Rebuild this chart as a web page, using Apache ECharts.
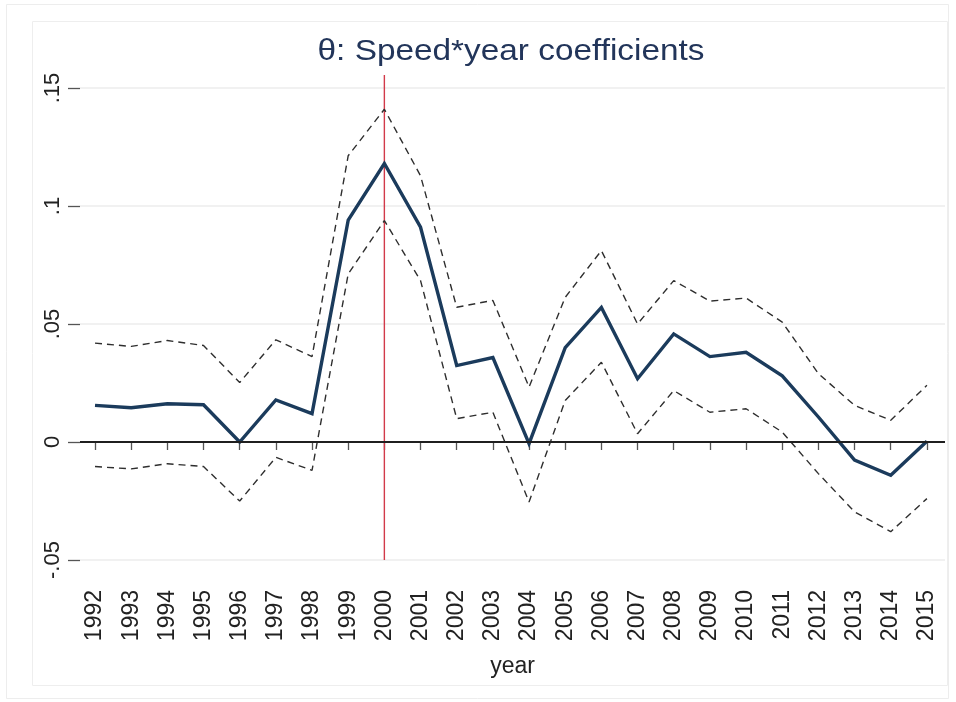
<!DOCTYPE html>
<html>
<head>
<meta charset="utf-8">
<script src="https://cdn.jsdelivr.net/npm/echarts@6/dist/echarts.min.js"></script>
<style>
  html, body { margin: 0; padding: 0; background: #ffffff; }
  #chart { width: 956px; height: 702px; }
</style>
</head>
<body>
<div id="chart"></div>
<script>
// Speed*year interaction coefficients with 95% confidence bands
const years = [1992, 1993, 1994, 1995, 1996, 1997, 1998, 1999, 2000, 2001, 2002, 2003,
               2004, 2005, 2006, 2007, 2008, 2009, 2010, 2011, 2012, 2013, 2014, 2015];
const coef  = [0.0155, 0.0145, 0.0162, 0.0158, 0.0000, 0.0178, 0.0120, 0.0940, 0.1180, 0.0910, 0.0324, 0.0358,
               -0.0007, 0.0400, 0.0570, 0.0268, 0.0458, 0.0362, 0.0380, 0.0280, 0.0106, -0.0077, -0.0141, 0.0003];
const upper = [0.0419, 0.0405, 0.0430, 0.0409, 0.0252, 0.0433, 0.0362, 0.1213, 0.1410, 0.1128, 0.0571, 0.0600,
               0.0233, 0.0613, 0.0811, 0.0500, 0.0684, 0.0597, 0.0610, 0.0508, 0.0290, 0.0155, 0.0092, 0.0240];
const lower = [-0.0104, -0.0114, -0.0092, -0.0104, -0.0250, -0.0065, -0.0120, 0.0712, 0.0938, 0.0684, 0.0099, 0.0126,
               -0.0254, 0.0176, 0.0338, 0.0035, 0.0218, 0.0126, 0.0141, 0.0042, -0.0134, -0.0296, -0.0380, -0.0240];
const yTickValues = [-0.05, 0, 0.05, 0.1, 0.15];
const yTickLabels = ['-.05', '0', '.05', '.1', '.15'];
const breakYear = 2000;
const titleText = 'θ: Speed*year coefficients';
const xTitle = 'year';

const X_MIN = 1991.585, X_MAX = 2015.5;
const Y_MIN = -0.05, Y_MAX = 0.15;
// the vertical reference line runs a little above the top of the plot area
const BREAK_TOP = 0.1555;

const pairs = arr => years.map((y, i) => [y, arr[i]]);
const FONT = '"Liberation Sans", Arial, sans-serif';

const PLOT_TOP = 88, PLOT_BOTTOM = 142;
const plotH = 702 - PLOT_TOP - PLOT_BOTTOM;
// second (overlay) grid shares the same scale but reaches higher
const overlayTop = PLOT_TOP - plotH * (BREAK_TOP - Y_MAX) / (Y_MAX - Y_MIN);

const chart = echarts.init(document.getElementById('chart'), null, { renderer: 'canvas' });

const dashedStyle = { color: '#2e2e2e', width: 1.4, type: [7, 5] };

chart.setOption({
  animation: false,
  backgroundColor: '#ffffff',
  grid: [
    { left: 80, right: 11, top: PLOT_TOP, bottom: PLOT_BOTTOM, containLabel: false },
    { left: 80, right: 11, top: overlayTop, bottom: PLOT_BOTTOM, containLabel: false }
  ],
  graphic: [
    { type: 'rect', shape: { x: 6.5, y: 4.5, width: 942, height: 694 },
      style: { fill: 'none', stroke: '#ededed', lineWidth: 1 }, silent: true, z: -10 },
    { type: 'rect', shape: { x: 32.5, y: 21.5, width: 915, height: 664 },
      style: { fill: 'none', stroke: '#eeeeee', lineWidth: 1 }, silent: true, z: -10 },
    { type: 'text', x: 511, y: 52, scaleX: 1.15, originX: 0, originY: 0,
      style: { text: titleText, font: '29px ' + FONT, fill: '#22355a',
               textAlign: 'center', textVerticalAlign: 'middle' }, silent: true }
  ],
  xAxis: [
    {
      type: 'value', gridIndex: 0,
      min: X_MIN, max: X_MAX,
      offset: 11,
      name: xTitle,
      nameLocation: 'middle',
      nameGap: 84,
      nameTextStyle: { fontSize: 23, fontFamily: FONT, color: '#222' },
      axisLine: { show: false },
      axisTick: { show: true, customValues: years, length: 8, lineStyle: { color: '#555', width: 1.3 } },
      axisLabel: { customValues: years, rotate: 90, margin: 19, fontSize: 23, fontFamily: FONT, color: '#222',
                   formatter: v => String(v) },
      splitLine: { show: false }
    },
    {
      type: 'value', gridIndex: 1, min: X_MIN, max: X_MAX, show: false
    }
  ],
  yAxis: [
    {
      type: 'value', gridIndex: 0,
      min: Y_MIN, max: Y_MAX, interval: 0.05,
      axisLine: { show: false },
      axisTick: { show: true, inside: false, length: 12, lineStyle: { color: '#555', width: 1.3 } },
      axisLabel: {
        rotate: 90, margin: 16, fontSize: 22, fontFamily: FONT, color: '#222',
        formatter: v => {
          const i = yTickValues.findIndex(t => Math.abs(t - v) < 1e-9);
          return i >= 0 ? yTickLabels[i] : '';
        }
      },
      splitLine: { show: true, lineStyle: { color: '#ececec', width: 1.5 } }
    },
    {
      type: 'value', gridIndex: 1, min: Y_MIN, max: BREAK_TOP, show: false
    }
  ],
  series: [
    {
      name: 'zero line', type: 'line', data: [], silent: true, xAxisIndex: 0, yAxisIndex: 0,
      markLine: {
        silent: true, symbol: 'none', animation: false, label: { show: false },
        lineStyle: { color: '#1f1f1f', width: 2, type: 'solid' },
        data: [{ yAxis: 0 }]
      }
    },
    {
      name: 'break year', type: 'line', xAxisIndex: 1, yAxisIndex: 1, silent: true,
      data: [[breakYear, Y_MIN], [breakYear, BREAK_TOP]], symbol: 'none',
      lineStyle: { color: '#d23a4a', width: 1.4 }, z: 2
    },
    { name: 'upper', type: 'line', data: pairs(upper), symbol: 'none', lineStyle: dashedStyle, z: 3 },
    { name: 'lower', type: 'line', data: pairs(lower), symbol: 'none', lineStyle: dashedStyle, z: 3 },
    { name: 'coefficient', type: 'line', data: pairs(coef), symbol: 'none',
      lineStyle: { color: '#1b3b5c', width: 3.4, join: 'miter' }, z: 4 }
  ]
});
</script>
</body>
</html>
